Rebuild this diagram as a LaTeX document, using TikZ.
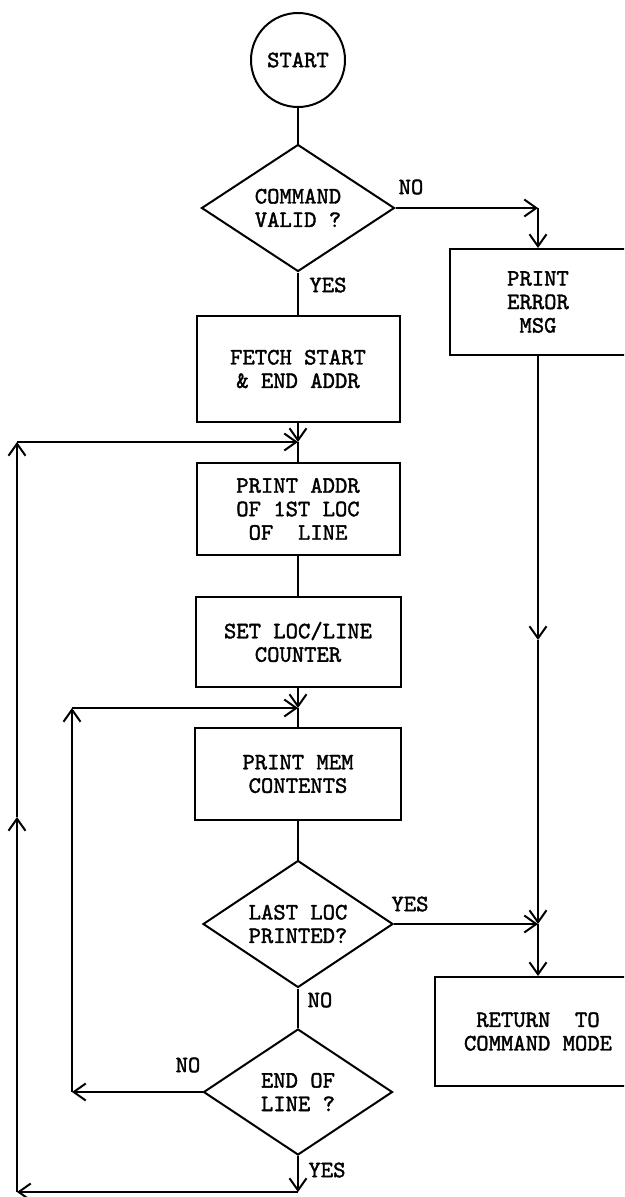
\documentclass[tikz,border=0pt]{standalone}
\usepackage{fontspec}
\newfontfamily\tw[FakeBold=1.6]{lmmono10-regular.otf}
\usetikzlibrary{shapes.geometric,arrows.meta}
\begin{document}
\begin{tikzpicture}[x=1pt,y=-1pt, line width=2pt,
  every node/.style={font={\tw\fontsize{23.5}{23.5}\selectfont}},
  box/.style={draw, rectangle, align=center, inner sep=0pt},
  dia/.style={draw, diamond, inner sep=0pt},
  txt/.style={align=center, inner sep=0pt},
  lab/.style={inner sep=0pt},
  arr/.style={-{Straight Barb[length=12pt,width=17pt]}}]
\useasboundingbox (0,0) rectangle (624,1197);
\clip (0,0) rectangle (624,1197);
% nodes
\node[draw, circle, minimum size=94pt, inner sep=0pt] (start) at (298,60) {START};
\node[dia, minimum width=193pt, minimum height=127pt] (d1) at (298,208) {};
\node[txt] (d1t) at (d1) {COMMAND\\VALID ?};
\node[box, minimum width=176pt, minimum height=106pt] (err) at (538,302) {PRINT\\ERROR\\MSG};
\node[box, minimum width=203pt, minimum height=106pt] (fetch) at (298,369) {FETCH START\\\& END ADDR};
\node[box, minimum width=203pt, minimum height=92pt] (paddr) at (298,509) {PRINT ADDR\\OF 1ST LOC\\OF~~LINE};
\node[box, minimum width=205pt, minimum height=90pt] (setloc) at (298,642) {SET LOC/LINE\\COUNTER};
\node[box, minimum width=206pt, minimum height=92pt] (pmem) at (298,774) {PRINT MEM\\CONTENTS};
\node[dia, minimum width=190pt, minimum height=127pt] (d2) at (298,924) {};
\node[txt] (d2t) at (d2) {LAST LOC\\PRINTED?};
\node[dia, minimum width=189pt, minimum height=126pt] (d3) at (298,1092) {};
\node[txt] (d3t) at (d3) {END OF\\LINE ?};
\node[box, minimum width=206pt, minimum height=109pt] (ret) at (538,1031.5) {RETURN~~TO\\COMMAND MODE};
% labels
\node[lab] (no1) at (411,187) {NO};
\node[lab] (yes1) at (328,285) {YES};
\node[lab] (yes2) at (410,904) {YES};
\node[lab] (no2) at (320,1000) {NO};
\node[lab] (no3) at (188,1065) {NO};
\node[lab] (yes3) at (327,1170) {YES};
% coordinates
\coordinate (c1) at (538,208);
\coordinate (j1) at (298,442);
\coordinate (j2) at (298,708);
\coordinate (j3) at (538,924);
\coordinate (m1) at (538,640);
\coordinate (k1) at (72,1092);
\coordinate (k2) at (72,708);
\coordinate (k3) at (298,1192);
\coordinate (k4) at (17,1192);
\coordinate (m2) at (17,817);
\coordinate (k5) at (17,442);
% connectors
\draw (start) -- (d1.north);
\draw[arr] (d1.east) -- (c1);
\draw[arr] (c1) -- (err.north);
\draw (d1.south) -- (fetch.north);
\draw[arr] (fetch.south) -- (j1);
\draw (j1) -- (paddr.north);
\draw (paddr.south) -- (setloc.north);
\draw[arr] (setloc.south) -- (j2);
\draw (j2) -- (pmem.north);
\draw (pmem.south) -- (d2.north);
\draw[arr] (d2.east) -- (j3);
\draw[arr] (err.south) -- (m1);
\draw[arr] (m1) -- (j3);
\draw[arr] (j3) -- (ret.north);
\draw (d2.south) -- (d3.north);
\draw[arr] (d3.west) -- (k1);
\draw[arr] (k1) -- (k2);
\draw[arr] (k2) -- (j2);
\draw[arr] (d3.south) -- (k3);
\draw[arr] (k3) -- (k4);
\draw[arr] (k4) -- (m2);
\draw[arr] (m2) -- (k5);
\draw[arr] (k5) -- (j1);
\end{tikzpicture}
\end{document}
